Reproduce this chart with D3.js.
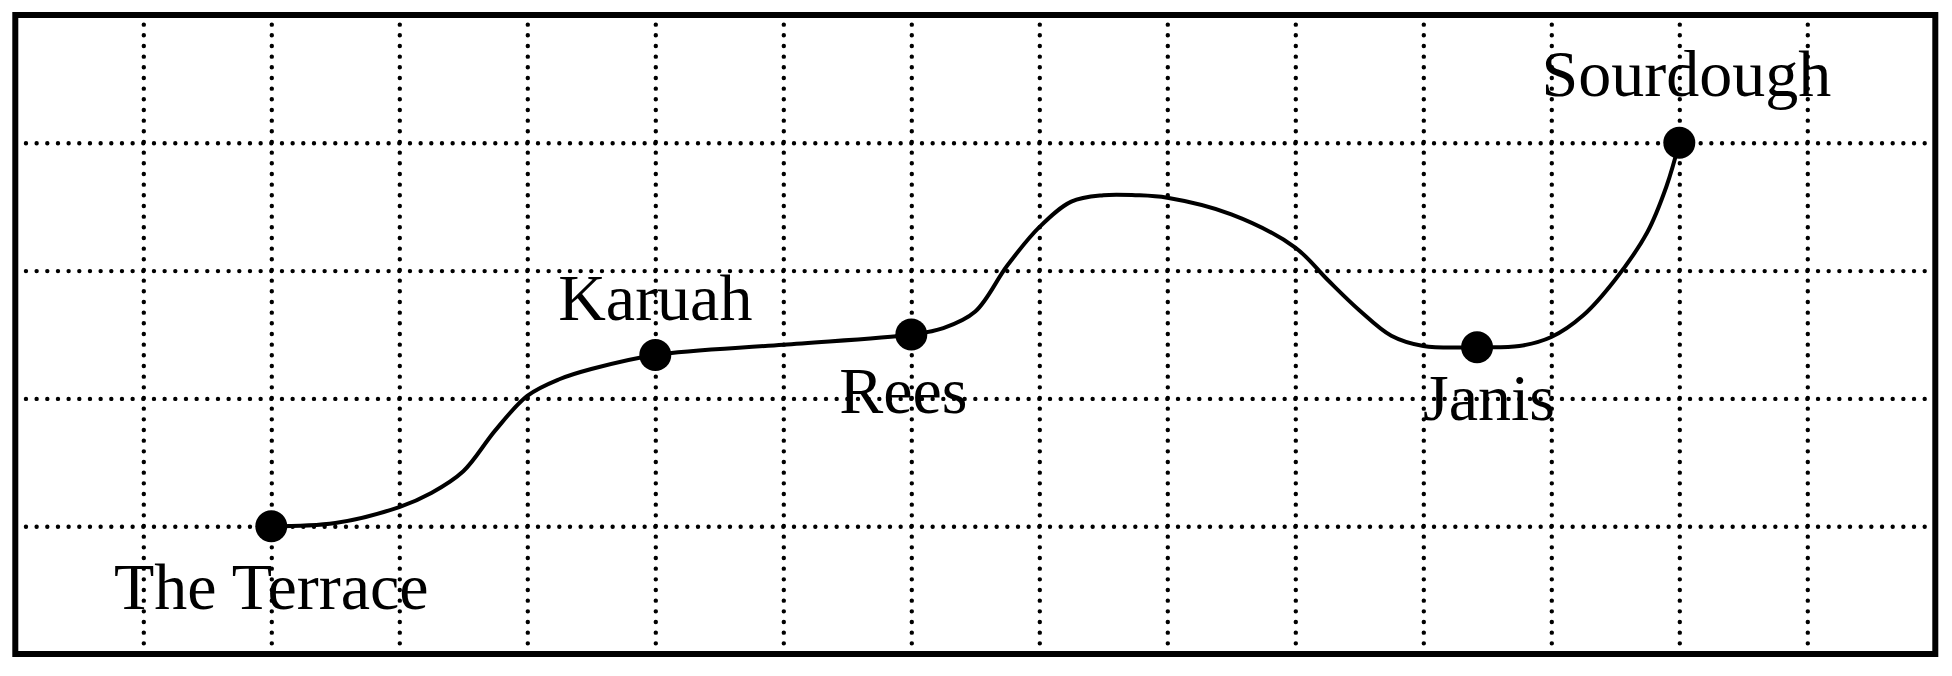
<!DOCTYPE html>
<html>
    <head>
        <title>Track</title>
        <meta http-equiv="Content-Type" content="text/html; charset=UTF-8">
        <script src="https://d3js.org/d3.v7.min.js" charset="utf-8"></script>
        <style>
            body { margin: 0; background: #fff; }
            .grid line { stroke: #000; stroke-width: 4.4; stroke-linecap: round; stroke-dasharray: 0 10.667; }
            .grid .domain { display: none; }
            .track { fill: none; stroke: #000; stroke-width: 4; }
            .stop { fill: #000; }
            .stop_label { font-family: "Liberation Serif", "Times New Roman", serif; font-size: 66px; fill: #000; text-anchor: middle; }
        </style>
    </head>
    <body>
        <div id="svgcontainer"></div>
        <script>

            // Named stops along the track
            var stopNames = ["The Terrace", "Karuah", "Rees", "Janis", "Sourdough"];
            var stopX = [2, 5, 7, 11.42, 13];
            var stopY = [1, 2.34, 2.5, 2.4, 4];

            // Track readings (grid units)
            var trackX = [2, 2.5, 3, 3.25, 3.5, 3.75, 4, 4.25, 4.5, 5,
                          6, 7, 7.25, 7.5, 7.75, 8, 8.25, 8.5, 8.75, 9, 9.5,
                          10, 10.25, 10.5, 10.75, 11, 11.42,
                          11.75, 12, 12.25, 12.5, 12.75, 12.9, 13];
            var trackY = [1, 1.025, 1.15, 1.26, 1.43, 1.75, 2.02, 2.15, 2.23, 2.34,
                          2.42, 2.5, 2.55, 2.68, 3.04, 3.34, 3.54, 3.59, 3.59, 3.57, 3.44,
                          3.18, 2.93, 2.69, 2.49, 2.41, 2.4,
                          2.41, 2.48, 2.65, 2.93, 3.3, 3.66, 4];

            // Grid extent
            var xDomain = [0, 15];
            var yDomain = [0, 5];

            // Layout
            var w = 1952, h = 676;
            var frame = { left: 15.3, top: 15, right: 1935.3, bottom: 654 };
            var dotRadius = 16;
            // label nudges (dx, dy) relative to each stop
            var labelDx = [0, 0, -8, 12, 7];
            var labelDy = [83, -35, 78, 73, -47];

            var x = d3.scaleLinear().domain(xDomain).range([frame.left, frame.right]);
            var y = d3.scaleLinear().domain(yDomain).range([frame.bottom, frame.top]);

            var svg = d3.select("#svgcontainer")
                .append("svg")
                .attr("width", w)
                .attr("height", h);

            // Dotted grid, drawn with axes
            svg.append("g")
                .attr("class", "grid")
                .attr("transform", "translate(0," + frame.bottom + ")")
                .call(d3.axisBottom(x)
                    .tickValues(d3.range(xDomain[0] + 1, xDomain[1]))
                    .tickSize(-(frame.bottom - frame.top))
                    .tickFormat(""));

            svg.append("g")
                .attr("class", "grid")
                .attr("transform", "translate(" + frame.left + ",0)")
                .call(d3.axisLeft(y)
                    .tickValues(d3.range(yDomain[0] + 1, yDomain[1]))
                    .tickSize(-(frame.right - frame.left))
                    .tickFormat(""));

            // Track
            var track = trackX.map(function (d, i) { return [d, trackY[i]]; });
            var line = d3.line()
                .x(function (d) { return x(d[0]); })
                .y(function (d) { return y(d[1]); })
                .curve(d3.curveCatmullRom.alpha(0.5));

            svg.append("path")
                .datum(track)
                .attr("class", "track")
                .attr("d", line);

            // Stops
            var stops = stopNames.map(function (name, i) {
                return { name: name, x: stopX[i], y: stopY[i], dx: labelDx[i], dy: labelDy[i] };
            });

            svg.selectAll(".stop")
                .data(stops)
                .enter()
                .append("circle")
                .attr("class", "stop")
                .attr("cx", function (d) { return x(d.x); })
                .attr("cy", function (d) { return y(d.y); })
                .attr("r", dotRadius);

            svg.selectAll(".stop_label")
                .data(stops)
                .enter()
                .append("text")
                .attr("class", "stop_label")
                .attr("x", function (d) { return x(d.x) + d.dx; })
                .attr("y", function (d) { return y(d.y) + d.dy; })
                .text(function (d) { return d.name; });

            // Frame on top
            svg.append("rect")
                .attr("x", frame.left)
                .attr("y", frame.top)
                .attr("width", frame.right - frame.left)
                .attr("height", frame.bottom - frame.top)
                .attr("fill", "none")
                .attr("stroke", "#000")
                .attr("stroke-width", 6);

        </script>
    </body>
</html>
